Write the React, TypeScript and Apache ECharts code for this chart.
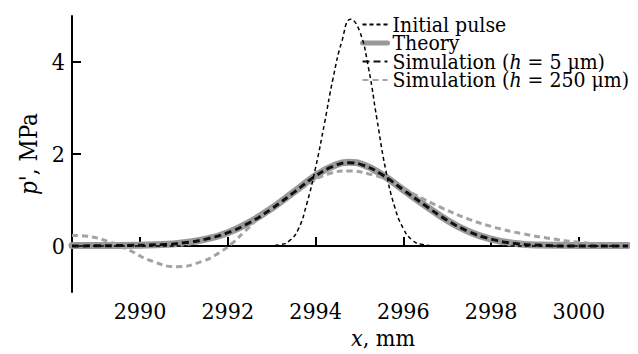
import React, { useEffect, useRef } from "react";
import * as echarts from "echarts";

// Pressure perturbation p' (MPa) along x (mm)
const pulseX = [2988.45, 2992.8, 2993.2, 2993.4, 2993.6, 2993.8, 2994.0, 2994.2, 2994.4, 2994.6, 2994.8, 2995.0, 2995.2, 2995.4, 2995.6, 2995.8, 2996.0, 2996.2, 2996.4, 2996.8, 3001.12];
const pulseY = [0, 0, 0.03, 0.11, 0.35, 0.92, 1.7, 2.65, 3.65, 4.45, 4.93, 4.68, 3.9, 2.75, 1.65, 0.86, 0.38, 0.13, 0.04, 0, 0];

const theoryX = [2988.45, 2989.5, 2990.5, 2991.0, 2991.5, 2992.0, 2992.5, 2993.0, 2993.5, 2994.0, 2994.4, 2994.75, 2995.1, 2995.5, 2996.0, 2996.5, 2997.0, 2997.5, 2998.0, 2998.5, 2999.0, 3000.0, 3001.12];
const theoryY = [0.01, 0.01, 0.03, 0.07, 0.15, 0.29, 0.52, 0.82, 1.17, 1.53, 1.74, 1.82, 1.76, 1.56, 1.22, 0.88, 0.56, 0.31, 0.15, 0.06, 0.02, 0.01, 0.01];

const sim5X = [2988.45, 2989.5, 2990.5, 2991.0, 2991.5, 2992.0, 2992.5, 2993.0, 2993.5, 2994.0, 2994.4, 2994.75, 2995.1, 2995.5, 2996.0, 2996.5, 2997.0, 2997.5, 2998.0, 2998.5, 2999.0, 3000.0, 3001.12];
const sim5Y = [0.0, 0.01, 0.03, 0.07, 0.15, 0.29, 0.51, 0.81, 1.16, 1.52, 1.73, 1.81, 1.75, 1.56, 1.22, 0.88, 0.56, 0.31, 0.15, 0.06, 0.02, 0.0, 0.0];

const sim250X = [2988.45, 2988.8, 2989.3, 2989.75, 2990.25, 2990.85, 2991.4, 2991.8, 2992.1, 2992.4, 2992.8, 2993.3, 2993.8, 2994.3, 2994.75, 2995.2, 2995.7, 2996.3, 2996.9, 2997.5, 2998.1, 2998.7, 2999.3, 3000.0, 3000.6, 3001.12];
const sim250Y = [0.23, 0.21, 0.09, -0.09, -0.32, -0.45, -0.34, -0.15, 0.06, 0.33, 0.68, 1.0, 1.32, 1.57, 1.63, 1.57, 1.41, 1.1, 0.82, 0.58, 0.4, 0.27, 0.17, 0.08, 0.04, 0.03];

const xTicks = [2990, 2992, 2994, 2996, 2998, 3000];
const yTicks = [0, 2, 4];

const seriesNames = [
  "Initial pulse",
  "Theory",
  "Simulation (h = 5 μm)",
  "Simulation (h = 250 μm)",
];

const SERIF = "DejaVu Serif Condensed, DejaVu Serif";

const pairs = (xs: number[], ys: number[]) => xs.map((x, i) => [x, ys[i]]);

export default function App() {
  const ref = useRef<HTMLDivElement>(null);

  useEffect(() => {
    if (!ref.current) return;
    const chart = echarts.init(ref.current, null, { renderer: "svg" });

    const axisCommon = {
      axisLine: { show: true, lineStyle: { color: "#000", width: 2 } },
      axisTick: { show: true, inside: true, length: 9, lineStyle: { color: "#000", width: 2 } },
      splitLine: { show: false },
    };
    const italic = (size: number) => ({ fontFamily: SERIF, fontSize: size, fontStyle: "italic", color: "#000" });

    chart.setOption({
      animation: false,
      backgroundColor: "#fff",
      grid: { left: 64, right: 18, top: 8, bottom: 70, containLabel: false },
      legend: {
        orient: "vertical",
        left: 352,
        top: 6,
        padding: 0,
        itemWidth: 25,
        itemHeight: 10,
        itemGap: -2.5,
        data: [
          { name: seriesNames[0] },
          { name: seriesNames[1], lineStyle: { width: 5 } },
          { name: seriesNames[2] },
          { name: seriesNames[3] },
        ],
        itemStyle: { opacity: 0 },
        formatter: (name: string) => name.replace("(h", "({i|h}"),
        textStyle: {
          fontFamily: SERIF,
          fontSize: 21,
          color: "#000",
          rich: { i: italic(21) },
        },
      },
      xAxis: {
        type: "value",
        min: 2988.45,
        max: 3001.12,
        ...axisCommon,
        axisTick: { ...axisCommon.axisTick, customValues: xTicks },
        axisLabel: {
          customValues: xTicks,
          formatter: (v: number) => String(v),
          margin: 7,
          fontFamily: SERIF,
          fontSize: 23,
          color: "#000",
        },
        name: "{i|x}, mm",
        nameLocation: "middle",
        nameGap: 27,
        nameTextStyle: {
          fontFamily: SERIF,
          fontSize: 23,
          color: "#000",
          padding: [0, 0, 0, 66],
          rich: { i: italic(23) },
        },
      },
      yAxis: {
        type: "value",
        min: -1,
        max: 5,
        ...axisCommon,
        axisTick: { ...axisCommon.axisTick, customValues: yTicks },
        axisLabel: {
          customValues: yTicks,
          formatter: (v: number) => String(v),
          margin: 7,
          fontFamily: SERIF,
          fontSize: 23,
          color: "#000",
        },
        name: "{i|p}', MPa",
        nameLocation: "middle",
        nameRotate: 90,
        nameGap: 29,
        nameTextStyle: {
          fontFamily: SERIF,
          fontSize: 24,
          color: "#000",
          rich: { i: italic(24) },
        },
      },
      series: [
        {
          name: seriesNames[1],
          type: "line",
          data: pairs(theoryX, theoryY),
          smooth: 0.5,
          symbol: "none",
          z: 2,
          lineStyle: { color: "#999999", width: 7, cap: "round" },
          itemStyle: { color: "#999999" },
        },
        {
          name: seriesNames[3],
          type: "line",
          data: pairs(sim250X, sim250Y),
          smooth: 0.5,
          symbol: "none",
          z: 3,
          lineStyle: { color: "#a3a3a3", width: 3, type: [6, 4] },
          itemStyle: { color: "#a3a3a3" },
        },
        {
          name: seriesNames[2],
          type: "line",
          data: pairs(sim5X, sim5Y),
          smooth: 0.5,
          symbol: "none",
          z: 4,
          lineStyle: { color: "#111", width: 3, type: [7, 4] },
          itemStyle: { color: "#111" },
        },
        {
          name: seriesNames[0],
          type: "line",
          data: pairs(pulseX, pulseY),
          smooth: 0.5,
          symbol: "none",
          z: 5,
          lineStyle: { color: "#000", width: 1.5, type: [4, 3] },
          itemStyle: { color: "#000" },
        },
      ],
    });

    return () => chart.dispose();
  }, []);

  return <div ref={ref} style={{ width: 638, height: 354 }} />;
}
